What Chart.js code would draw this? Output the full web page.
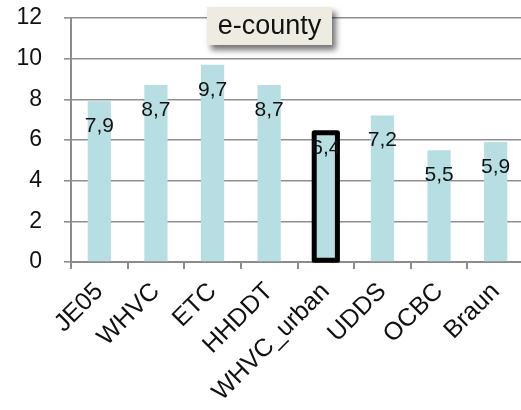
<!DOCTYPE html>
<html>
<head>
<meta charset="utf-8">
<script src="https://cdn.jsdelivr.net/npm/chart.js@4/dist/chart.umd.min.js"></script>
<style>
  html, body { margin: 0; padding: 0; background: #fff; overflow: hidden; }
  #wrap { position: relative; width: 524px; height: 410px; }
</style>
</head>
<body>
<div id="wrap"><canvas id="c"></canvas></div>
<script>
// Drive cycles and their values
const categories = ['JE05', 'WHVC', 'ETC', 'HHDDT', 'WHVC_urban', 'UDDS', 'OCBC', 'Braun'];
const values = [7.9, 8.7, 9.7, 8.7, 6.4, 7.2, 5.5, 5.9];
const valueLabels = ['7,9', '8,7', '9,7', '8,7', '6,4', '7,2', '5,5', '5,9'];
const highlighted = ['WHVC_urban'];
const yTicks = [0, 2, 4, 6, 8, 10, 12];
const chartTitle = 'e-county';

const FONT = "'Liberation Sans', Arial, sans-serif";
const BAR = 'rgb(183,222,226)';

// Thick outline around highlighted bars, centred on the bar edges
const outlinePlugin = {
  id: 'outline',
  afterDatasetsDraw(chart) {
    const ctx = chart.ctx;
    const meta = chart.getDatasetMeta(0);
    ctx.save();
    ctx.strokeStyle = '#000';
    ctx.lineWidth = 5;
    ctx.lineJoin = 'round';
    meta.data.forEach((bar, i) => {
      if (!highlighted.includes(categories[i])) return;
      const { x, y, base, width } = bar.getProps(['x', 'y', 'base', 'width'], true);
      ctx.strokeRect(x - width / 2, y + 1, width, base - y - 2);
    });
    ctx.restore();
  }
};

// Value labels drawn inside the top of each bar
const valueLabelPlugin = {
  id: 'valueLabels',
  afterDatasetsDraw(chart) {
    const ctx = chart.ctx;
    const meta = chart.getDatasetMeta(0);
    ctx.save();
    ctx.font = '21px ' + FONT;
    ctx.fillStyle = '#111';
    ctx.textAlign = 'center';
    ctx.textBaseline = 'middle';
    meta.data.forEach((bar, i) => {
      const off = highlighted.includes(categories[i]) ? 16 : 25;
      ctx.fillText(valueLabels[i], bar.x, bar.y + off);
    });
    ctx.restore();
  }
};

// Title in a shaded box over the plot
const titleBoxPlugin = {
  id: 'titleBox',
  afterDraw(chart) {
    const ctx = chart.ctx;
    const x = 207, y = 7, w = 125, h = 38;
    ctx.save();
    ctx.shadowColor = 'rgba(0,0,0,0.55)';
    ctx.shadowBlur = 6;
    ctx.shadowOffsetX = 4;
    ctx.shadowOffsetY = 5;
    ctx.fillStyle = '#eeece1';
    ctx.fillRect(x, y, w, h);
    ctx.restore();
    ctx.save();
    ctx.font = '27px ' + FONT;
    ctx.fillStyle = '#111';
    ctx.textAlign = 'center';
    ctx.textBaseline = 'middle';
    ctx.fillText(chartTitle, x + w / 2, y + h / 2 + 1);
    ctx.restore();
  }
};

new Chart(document.getElementById('c'), {
  type: 'bar',
  data: {
    labels: categories,
    datasets: [{
      data: values,
      backgroundColor: BAR,
      borderWidth: 0,
      barPercentage: 0.41,
      categoryPercentage: 1.0
    }]
  },
  options: {
    responsive: true,
    maintainAspectRatio: false,
    animation: false,
    layout: { padding: { top: 18, right: 0, left: 0, bottom: 0 } },
    plugins: { legend: { display: false }, tooltip: { enabled: false }, title: { display: false } },
    scales: {
      x: {
        offset: true,
        grid: { display: true, drawOnChartArea: false, drawTicks: true, tickLength: 7, color: '#8c8c8c', lineWidth: 2, offset: true },
        border: { display: true, color: '#8c8c8c', width: 2 },
        ticks: { maxRotation: 45, minRotation: 45, padding: 8, color: '#111', font: { family: FONT, size: 25 } },
        afterFit(scale) { scale.height = 148; scale.paddingLeft = 0; scale.paddingRight = 0; scale.paddingTop = 0; scale.paddingBottom = 0; }
      },
      y: {
        min: 0, max: 12,
        afterBuildTicks(scale) { scale.ticks = yTicks.map(v => ({ value: v })); },
        grid: { color: '#8f8f8f', lineWidth: 1.6, tickLength: 7 },
        border: { display: true, color: '#8c8c8c', width: 2 },
        ticks: { padding: 22, color: '#111', font: { family: FONT, size: 23 } },
        afterFit(scale) { scale.width = 71; scale.paddingTop = 0; scale.paddingBottom = 0; scale.paddingLeft = 0; scale.paddingRight = 0; }
      }
    }
  },
  plugins: [outlinePlugin, valueLabelPlugin, titleBoxPlugin]
});
</script>
</body>
</html>
